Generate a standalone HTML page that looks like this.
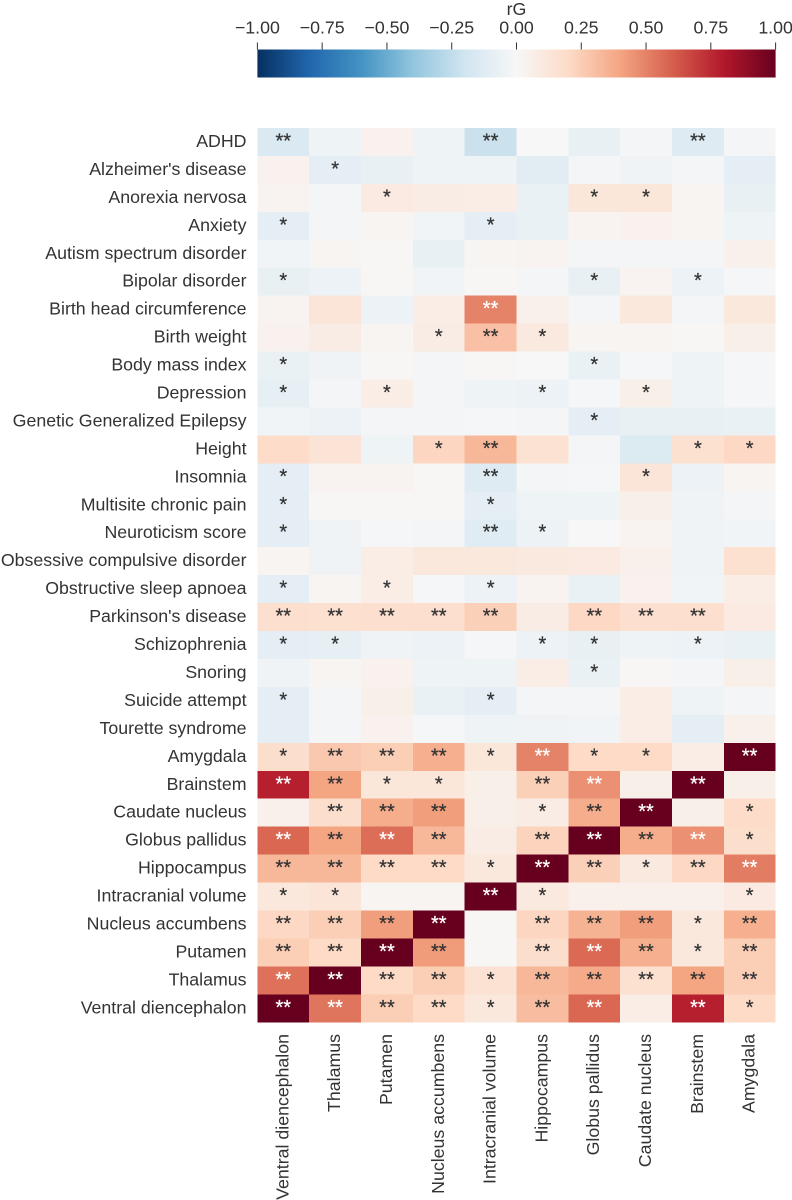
<!DOCTYPE html>
<html lang="en">
<head>
<meta charset="utf-8">
<title>Genetic correlation heatmap</title>
<style>
html,body{margin:0;padding:0;background:#fff;width:792px;height:1200px;overflow:hidden}
svg{display:block;filter:blur(0.35px)}
text{font-family:"Liberation Sans",sans-serif;fill:#333}
</style>
</head>
<body>
<svg id="chart" xmlns="http://www.w3.org/2000/svg" width="792" height="1200" viewBox="0 0 792 1200"></svg>
<script>
const rowLabels = ["ADHD","Alzheimer's disease","Anorexia nervosa","Anxiety","Autism spectrum disorder","Bipolar disorder","Birth head circumference","Birth weight","Body mass index","Depression","Genetic Generalized Epilepsy","Height","Insomnia","Multisite chronic pain","Neuroticism score","Obsessive compulsive disorder","Obstructive sleep apnoea","Parkinson's disease","Schizophrenia","Snoring","Suicide attempt","Tourette syndrome","Amygdala","Brainstem","Caudate nucleus","Globus pallidus","Hippocampus","Intracranial volume","Nucleus accumbens","Putamen","Thalamus","Ventral diencephalon"];
const colLabels = ["Ventral diencephalon","Thalamus","Putamen","Nucleus accumbens","Intracranial volume","Hippocampus","Globus pallidus","Caudate nucleus","Brainstem","Amygdala"];
const colorbarTicks = [-1,-0.75,-0.5,-0.25,0,0.25,0.5,0.75,1];
const colorbarTickLabels = ["\u22121.00","\u22120.75","\u22120.50","\u22120.25","0.00","0.25","0.50","0.75","1.00"];
const rgValues = [
[-.15,-.05,.04,-.05,-.22,0,-.08,-.02,-.13,-.02],
[.04,-.1,-.08,-.05,-.05,-.11,-.02,-.04,-.02,-.1],
[.03,-.02,.09,.08,.07,-.07,.12,.12,.02,-.08],
[-.1,-.02,.02,-.03,-.1,-.07,.03,.04,.02,-.05],
[-.03,.02,.01,-.08,.02,.03,-.02,-.02,-.02,.05],
[-.08,-.06,.01,-.03,.01,-.02,-.08,.03,-.06,-.01],
[.03,.13,-.06,.07,.5,.05,-.02,.11,-.02,.11],
[.04,.08,.02,.08,.3,.1,.02,.02,.01,.06],
[-.07,-.04,.01,-.02,.01,0,-.07,-.01,-.05,-.01],
[-.09,-.02,.07,-.02,-.05,-.06,-.01,.06,-.05,-.01],
[-.03,-.06,-.02,-.02,-.01,-.02,-.1,-.08,-.08,-.07],
[.19,.14,-.05,.22,.33,.15,-.02,-.14,.16,.21],
[-.1,.03,.03,.01,-.13,-.02,-.01,.13,-.06,.02],
[-.1,.01,.01,.01,-.1,-.05,-.05,.06,-.04,-.02],
[-.1,-.04,-.01,-.02,-.12,-.06,0,.03,-.04,-.03],
[.02,-.04,.07,.11,.11,.1,.09,.05,-.04,.16],
[-.1,.02,.07,-.01,-.06,.03,-.07,.04,-.03,.07],
[.17,.16,.17,.17,.24,.08,.21,.17,.17,.09],
[-.1,-.09,-.04,-.06,-.01,-.06,-.08,-.05,-.06,-.07],
[-.04,.02,.04,-.05,-.05,.07,-.07,.01,-.02,.06],
[-.1,-.02,.06,-.07,-.1,-.02,-.02,.07,-.05,-.02],
[-.1,-.02,.04,-.01,-.05,-.04,-.03,.07,-.1,.05],
[.18,.27,.25,.36,.12,.5,.2,.2,.07,1],
[.78,.4,.12,.12,.06,.24,.46,.06,1,.06],
[.05,.18,.37,.42,.06,.08,.37,1,.06,.19],
[.58,.4,.56,.33,.08,.23,1,.37,.46,.18],
[.33,.33,.2,.2,.11,1,.24,.1,.21,.52],
[.11,.13,.02,.02,1,.1,.05,.05,.05,.09],
[.21,.25,.42,1,.01,.22,.35,.42,.11,.36],
[.25,.2,1,.43,.01,.18,.57,.36,.11,.25],
[.55,1,.2,.25,.15,.33,.38,.16,.4,.25],
[1,.54,.25,.2,.11,.31,.58,.07,.78,.2]
];
const significance = [
[2,0,0,0,2,0,0,0,2,0],
[0,1,0,0,0,0,0,0,0,0],
[0,0,1,0,0,0,1,1,0,0],
[1,0,0,0,1,0,0,0,0,0],
[0,0,0,0,0,0,0,0,0,0],
[1,0,0,0,0,0,1,0,1,0],
[0,0,0,0,2,0,0,0,0,0],
[0,0,0,1,2,1,0,0,0,0],
[1,0,0,0,0,0,1,0,0,0],
[1,0,1,0,0,1,0,1,0,0],
[0,0,0,0,0,0,1,0,0,0],
[0,0,0,1,2,0,0,0,1,1],
[1,0,0,0,2,0,0,1,0,0],
[1,0,0,0,1,0,0,0,0,0],
[1,0,0,0,2,1,0,0,0,0],
[0,0,0,0,0,0,0,0,0,0],
[1,0,1,0,1,0,0,0,0,0],
[2,2,2,2,2,0,2,2,2,0],
[1,1,0,0,0,1,1,0,1,0],
[0,0,0,0,0,0,1,0,0,0],
[1,0,0,0,1,0,0,0,0,0],
[0,0,0,0,0,0,0,0,0,0],
[1,2,2,2,1,2,1,1,0,2],
[2,2,1,1,0,2,2,0,2,0],
[0,2,2,2,0,1,2,2,0,1],
[2,2,2,2,0,2,2,2,2,1],
[2,2,2,2,1,2,2,1,2,2],
[1,1,0,0,2,1,0,0,0,1],
[2,2,2,2,0,2,2,2,1,2],
[2,2,2,2,0,2,2,2,1,2],
[2,2,2,2,1,2,2,2,2,2],
[2,2,2,2,1,2,2,0,2,1]
];
const rdbuStops = ["#053061","#2166ac","#4393c3","#92c5de","#d1e5f0","#f7f7f7","#fddbc7","#f4a582","#d6604d","#b2182b","#67001f"];

const NS = "http://www.w3.org/2000/svg";
const svg = document.getElementById("chart");
const plot = {left:257.4, right:775.6, top:128, bottom:1022.3};
const bar = {top:49.5, bottom:77.5};
const labelSize = 17.75;
const colW = (plot.right - plot.left) / colLabels.length;
const rowH = (plot.bottom - plot.top) / rowLabels.length;
const xScale = i => plot.left + i * colW;
const yScale = i => plot.top + i * rowH;
const barX = v => plot.left + (v + 1) / 2 * (plot.right - plot.left);

function make(tag, attrs, parent) {
  const el = document.createElementNS(NS, tag);
  for (const k in attrs) el.setAttribute(k, attrs[k]);
  (parent || svg).appendChild(el);
  return el;
}
function hexRgb(h) {
  return [1,3,5].map(i => parseInt(h.substr(i,2),16));
}
function colorFor(v) {
  const t = Math.max(0, Math.min(1, (v + 1) / 2)) * (rdbuStops.length - 1);
  const i = Math.min(Math.floor(t), rdbuStops.length - 2);
  const a = hexRgb(rdbuStops[i]), b = hexRgb(rdbuStops[i + 1]), f = t - i;
  return "rgb(" + a.map((c, k) => Math.round(c + (b[k] - c) * f)).join(",") + ")";
}
function slug(s) {
  return s.toLowerCase().replace(/[^a-z0-9]+/g, "-");
}

/* colorbar */
const defs = make("defs", {});
const grad = make("linearGradient", {id:"rdbu", x1:"0", x2:"1", y1:"0", y2:"0"}, defs);
rdbuStops.forEach((c, i) => make("stop", {offset:i / (rdbuStops.length - 1), "stop-color":c}, grad));
const barRect = make("rect", {x:plot.left, y:bar.top, width:plot.right - plot.left, height:bar.bottom - bar.top, fill:"url(#rdbu)"});


colorbarTicks.forEach((v, i) => {
  const tick = make("line", {x1:barX(v), x2:barX(v), y1:42.5, y2:bar.top, stroke:"#333", "stroke-width":1});
  
  
  const lab = make("text", {x:barX(v), y:33.5, "text-anchor":"middle", "font-size":labelSize});
  lab.textContent = colorbarTickLabels[i];
  
  
});
const title = make("text", {x:barX(0), y:15, "text-anchor":"middle", "font-size":labelSize});
title.textContent = "rG";



/* cells */
rgValues.forEach((row, r) => {
  row.forEach((v, c) => {
    const cell = make("rect", {x:xScale(c), y:yScale(r), width:colW, height:rowH, fill:colorFor(v), "shape-rendering":"crispEdges"});
    
    
  });
});
/* stars */
rgValues.forEach((row, r) => {
  row.forEach((v, c) => {
    const n = significance[r][c];
    if (!n) return;
    const star = make("text", {x:xScale(c) + colW / 2, y:yScale(r) + rowH / 2 + 5.5, "text-anchor":"middle", "font-size":20});
    star.textContent = "*".repeat(n);
    const ink = v >= 0.44 ? "#ffffff" : "#333333";
    star.style.fill = ink;
    star.style.stroke = ink;
    star.style.strokeWidth = "0.25px";
    
    
  });
});
/* row labels */
rowLabels.forEach((name, r) => {
  const t = make("text", {x:246.5, y:yScale(r) + rowH / 2 + 5, "text-anchor":"end", "font-size":labelSize});
  t.textContent = name;
  
  
});
/* column labels */
colLabels.forEach((name, c) => {
  const bx = xScale(c) + colW / 2 + 5;
  const t = make("text", {x:0, y:0, transform:"translate(" + bx + ",1034) rotate(-90)", "text-anchor":"end", "font-size":labelSize});
  t.textContent = name;
  
  
});
</script>
</body>
</html>
